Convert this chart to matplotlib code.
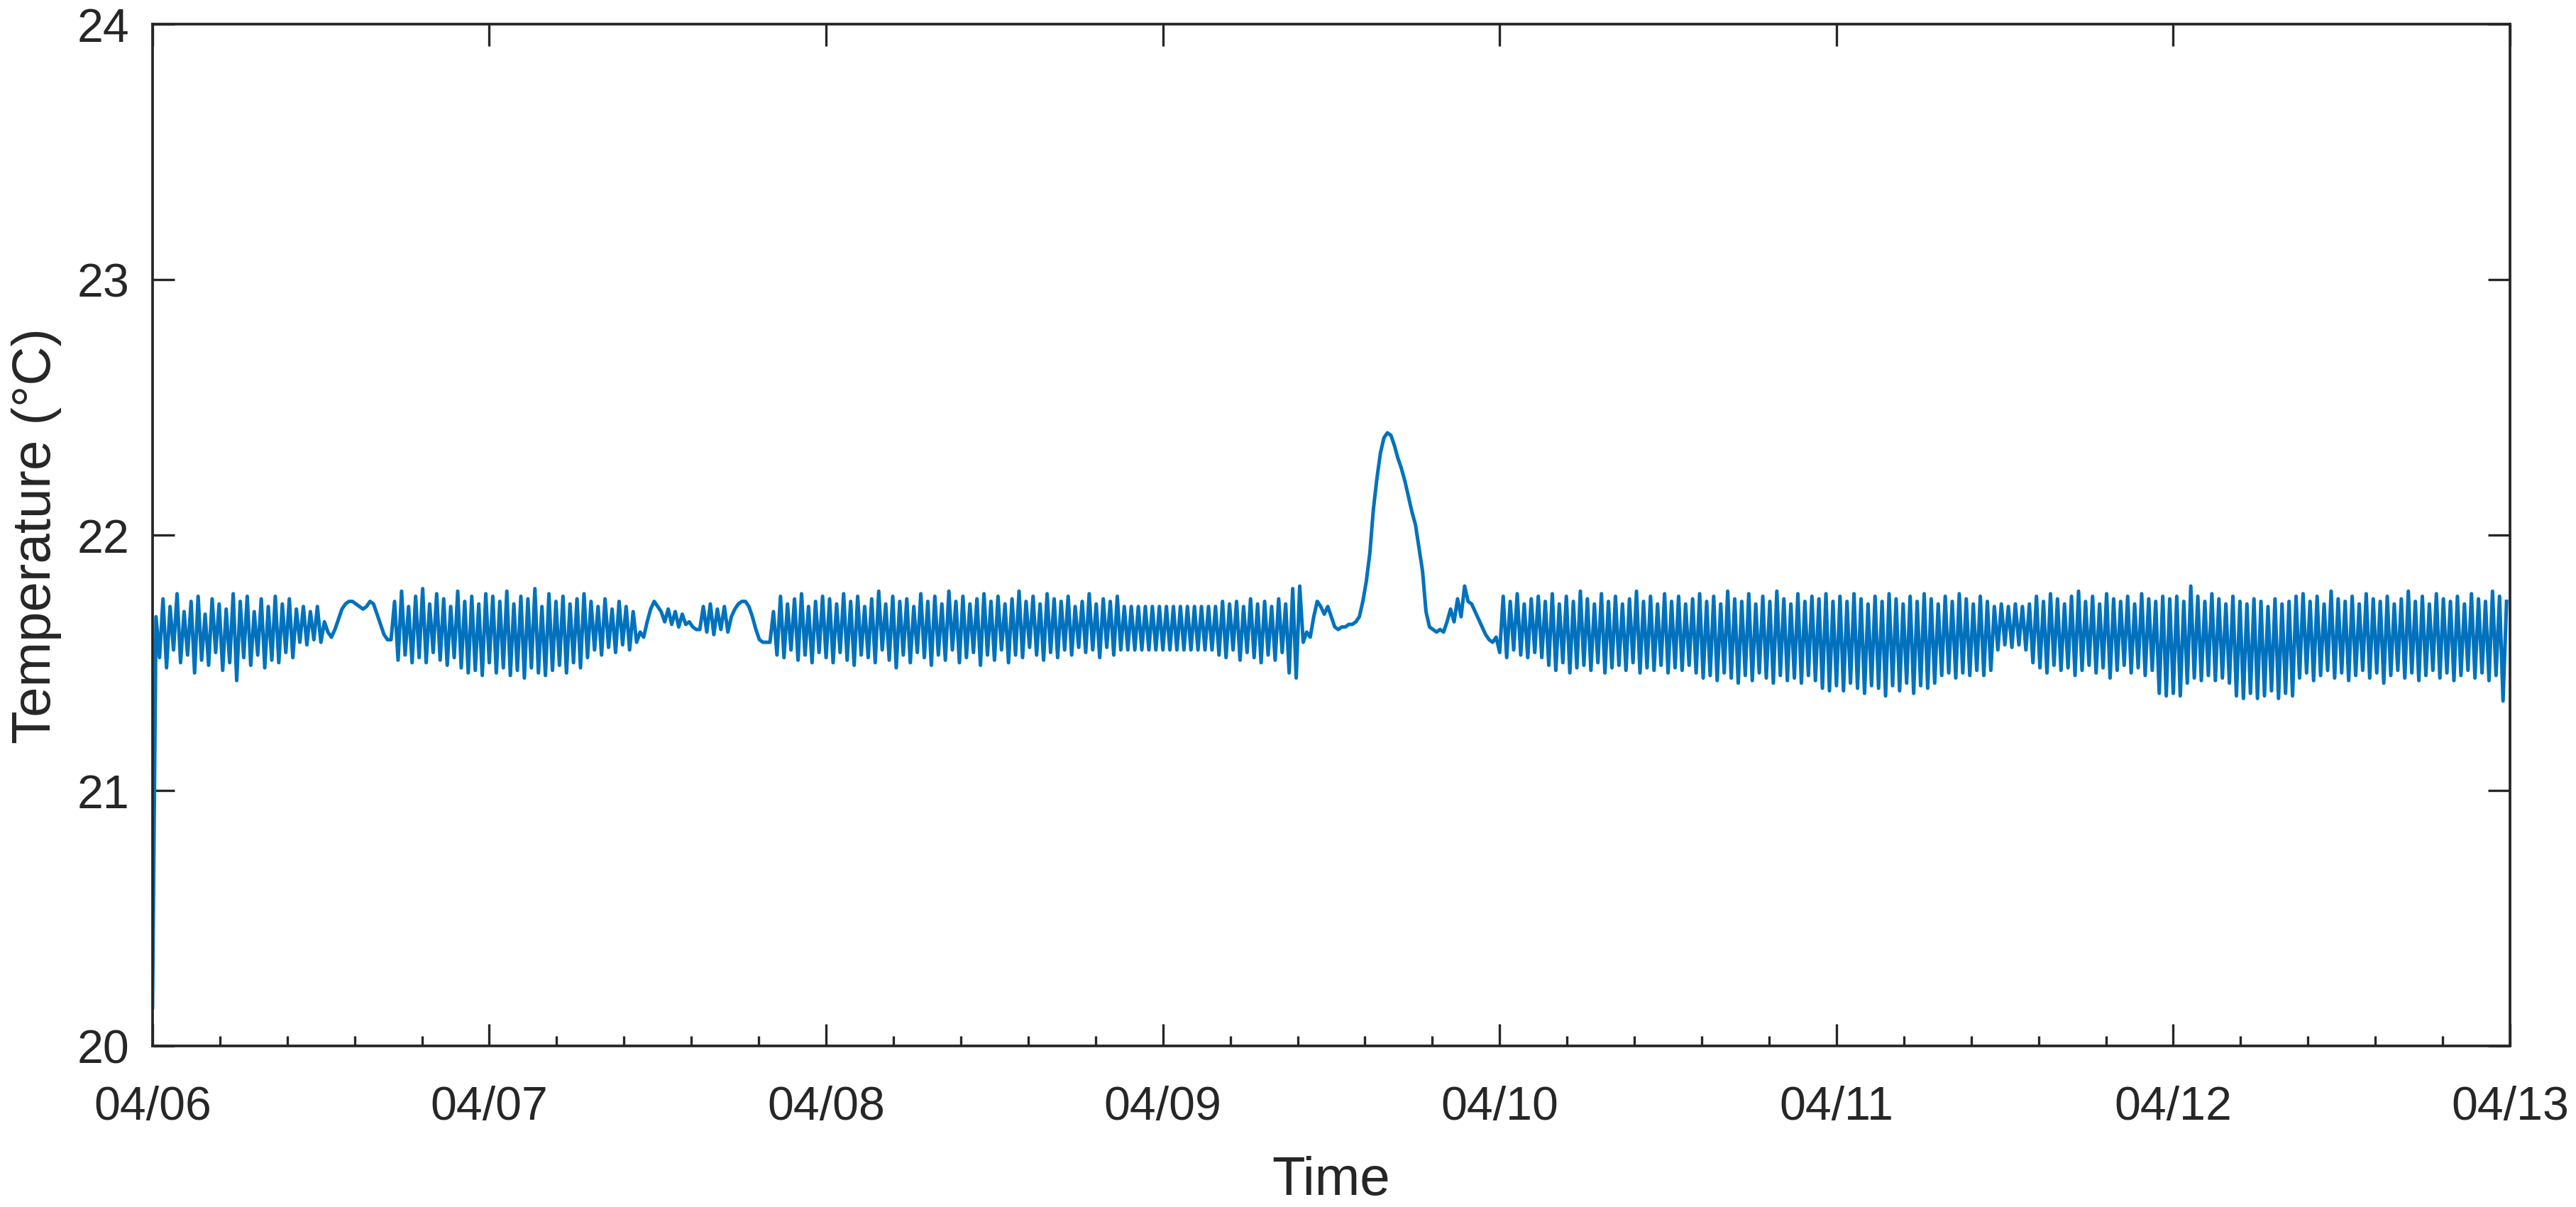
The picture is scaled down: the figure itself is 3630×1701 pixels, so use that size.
import numpy as np
import matplotlib
matplotlib.use('Agg')
import matplotlib.pyplot as plt
import matplotlib.dates as mdates
from matplotlib.ticker import MultipleLocator

plt.rcParams['font.family'] = ['Liberation Sans', 'DejaVu Sans']

# temperature readings, one every 15 minutes, one list per day (°C)
START = np.datetime64('2021-04-06T00:00')
STEP_MIN = 15

apr06 = [20.15,
         21.68, 21.52, 21.75, 21.48, 21.72, 21.55, 21.77, 21.50, 21.70, 21.53, 21.74, 21.46,
         21.76, 21.51, 21.69, 21.49, 21.75, 21.54, 21.73, 21.47, 21.71, 21.50, 21.77, 21.43,
         21.74, 21.52, 21.76, 21.49, 21.70, 21.53, 21.75, 21.48, 21.72, 21.51, 21.76, 21.50,
         21.73, 21.54, 21.75, 21.52, 21.71, 21.58, 21.72, 21.57, 21.70, 21.59, 21.72, 21.58,
         21.66,
         21.62, 21.60, 21.63, 21.67, 21.71, 21.73, 21.74, 21.74, 21.73, 21.72, 21.71, 21.72,
         21.74, 21.73, 21.69, 21.65, 21.61, 21.59, 21.59,
         21.74, 21.51, 21.78, 21.53, 21.72, 21.50, 21.76, 21.52, 21.79, 21.50, 21.73, 21.54,
         21.77, 21.51, 21.75, 21.49, 21.72, 21.52, 21.78, 21.48, 21.74, 21.46, 21.76, 21.47,
         21.73, 21.45, 21.77]

apr07 = [21.50, 21.76, 21.46, 21.74, 21.48, 21.78, 21.45, 21.73, 21.47, 21.76, 21.44, 21.75,
         21.48, 21.79, 21.46, 21.72, 21.45, 21.77, 21.47, 21.74, 21.49, 21.76, 21.46, 21.73,
         21.50, 21.75, 21.48, 21.77, 21.52,
         21.74, 21.55, 21.72, 21.53, 21.75, 21.56, 21.71, 21.54, 21.74, 21.57, 21.72, 21.55,
         21.70, 21.58,
         21.62, 21.60, 21.66, 21.71, 21.74, 21.72, 21.70,
         21.66, 21.71, 21.65, 21.70, 21.64, 21.69, 21.65, 21.66, 21.64,
         21.63, 21.63,
         21.72, 21.62, 21.73, 21.61, 21.71, 21.63, 21.72, 21.62,
         21.68, 21.71, 21.73, 21.74, 21.74, 21.72, 21.68, 21.63, 21.59, 21.58, 21.58, 21.58,
         21.70, 21.53, 21.76, 21.52, 21.73, 21.55, 21.75, 21.51, 21.77, 21.53, 21.72, 21.50,
         21.74, 21.54, 21.76]

apr08 = [21.52, 21.75, 21.50, 21.73, 21.54, 21.77, 21.51, 21.74, 21.49, 21.76, 21.53, 21.72,
         21.52, 21.75, 21.50, 21.78, 21.55, 21.73, 21.51, 21.76, 21.48, 21.74, 21.53, 21.75,
         21.50, 21.72, 21.54, 21.77, 21.52, 21.74, 21.49, 21.76, 21.53, 21.73, 21.51, 21.78,
         21.55, 21.74, 21.50, 21.76, 21.52, 21.73, 21.54, 21.75, 21.49, 21.77, 21.53, 21.74,
         21.51, 21.76, 21.55, 21.73, 21.50, 21.75, 21.53, 21.78, 21.52, 21.74, 21.56, 21.76,
         21.53, 21.73, 21.51, 21.77, 21.54, 21.75, 21.52, 21.74, 21.55, 21.76, 21.53, 21.72,
         21.56, 21.74, 21.54, 21.77, 21.55, 21.73, 21.52, 21.75, 21.56, 21.74, 21.53, 21.76,
         21.55,
         21.72, 21.55, 21.72, 21.55, 21.72, 21.55, 21.72, 21.55, 21.72, 21.55, 21.72]

apr09 = [21.55, 21.72, 21.55, 21.72, 21.55, 21.72, 21.55, 21.72, 21.55, 21.72, 21.55, 21.72,
         21.55, 21.72, 21.55, 21.72,
         21.53, 21.74, 21.52, 21.73, 21.55, 21.74, 21.51, 21.72, 21.54, 21.75, 21.52, 21.73,
         21.50, 21.74, 21.53, 21.72, 21.51, 21.75, 21.54, 21.73,
         21.46, 21.79, 21.44, 21.80, 21.58,
         21.62, 21.60, 21.68, 21.74, 21.72, 21.69, 21.72, 21.68, 21.64, 21.63, 21.64, 21.64,
         21.65, 21.65, 21.66, 21.68,
         21.74, 21.82, 21.93, 22.10, 22.22, 22.32, 22.38, 22.40, 22.39, 22.35, 22.30, 22.26,
         22.21, 22.15, 22.09, 22.04, 21.95, 21.86, 21.70, 21.64, 21.63, 21.62, 21.63, 21.62,
         21.66, 21.71, 21.66, 21.75, 21.68, 21.80, 21.74, 21.73, 21.70, 21.67, 21.64, 21.61,
         21.59, 21.58, 21.60]

apr10 = [21.54, 21.76, 21.52, 21.74, 21.55, 21.77, 21.53, 21.73, 21.52, 21.75, 21.54, 21.76,
         21.52, 21.74, 21.49, 21.77, 21.47, 21.73, 21.50, 21.76, 21.46, 21.74, 21.48, 21.78,
         21.49, 21.75, 21.47, 21.73, 21.50, 21.77, 21.46, 21.74, 21.48, 21.76, 21.49, 21.73,
         21.47, 21.75, 21.50, 21.78, 21.46, 21.74, 21.48, 21.76, 21.47, 21.73, 21.49, 21.77,
         21.46, 21.74, 21.48, 21.76, 21.47, 21.73, 21.49, 21.75, 21.46, 21.77, 21.44, 21.74,
         21.45, 21.76, 21.43, 21.73, 21.46, 21.78, 21.44, 21.75, 21.42, 21.74, 21.45, 21.77,
         21.43, 21.73, 21.46, 21.76, 21.44, 21.74, 21.42, 21.78, 21.45, 21.75, 21.43, 21.73,
         21.44, 21.77, 21.42, 21.74, 21.45, 21.76, 21.43, 21.75, 21.40, 21.77, 21.39, 21.74]

apr11 = [21.41, 21.76, 21.39, 21.74, 21.42, 21.77, 21.40, 21.75, 21.38, 21.73, 21.41, 21.76,
         21.40, 21.74, 21.37, 21.77, 21.41, 21.75, 21.39, 21.73, 21.42, 21.76, 21.38, 21.74,
         21.41, 21.77, 21.40, 21.75, 21.42, 21.73, 21.45, 21.76, 21.46, 21.74, 21.44, 21.77,
         21.46, 21.75, 21.45, 21.73, 21.47, 21.76, 21.45, 21.74, 21.47, 21.72, 21.55, 21.73,
         21.57, 21.72, 21.56, 21.73, 21.57, 21.72, 21.55, 21.73, 21.50, 21.76, 21.48, 21.74,
         21.46, 21.77, 21.49, 21.75, 21.47, 21.73, 21.48, 21.76, 21.45, 21.78, 21.47, 21.74,
         21.49, 21.76, 21.46, 21.73, 21.48, 21.77, 21.44, 21.75, 21.47, 21.74, 21.49, 21.76,
         21.46, 21.73, 21.48, 21.77, 21.45, 21.75, 21.47, 21.74, 21.38, 21.76, 21.37, 21.75]

apr12 = [21.38, 21.76, 21.37, 21.74, 21.42, 21.80, 21.44, 21.76, 21.43, 21.74, 21.45, 21.77,
         21.43, 21.75, 21.44, 21.73, 21.42, 21.76, 21.37, 21.74, 21.36, 21.73, 21.38, 21.75,
         21.36, 21.74, 21.37, 21.72, 21.39, 21.75, 21.36, 21.73, 21.38, 21.74, 21.37, 21.76,
         21.44, 21.77, 21.46, 21.74, 21.43, 21.76, 21.45, 21.73, 21.47, 21.78, 21.44, 21.75,
         21.46, 21.74, 21.43, 21.76, 21.45, 21.73, 21.47, 21.77, 21.44, 21.75, 21.46, 21.74,
         21.42, 21.76, 21.45, 21.73, 21.47, 21.75, 21.44, 21.78, 21.46, 21.74, 21.43, 21.76,
         21.45, 21.73, 21.47, 21.77, 21.44, 21.75, 21.46, 21.74, 21.43, 21.76, 21.45, 21.73,
         21.47, 21.77, 21.44, 21.75, 21.46, 21.74, 21.43, 21.78, 21.45, 21.76, 21.35, 21.74]

days = [apr06, apr07, apr08, apr09, apr10, apr11, apr12]

t_all, v_all = [], []
for k, vals in enumerate(days):
    t0 = START + np.timedelta64(k, 'D')
    t_all.append(t0 + np.arange(len(vals)) * np.timedelta64(STEP_MIN, 'm'))
    v_all.append(np.array(vals))
t_all = np.concatenate(t_all)
v_all = np.concatenate(v_all)

INK = '#262626'
TICK_FS = 15.9
LABEL_FS = 18.3

fig = plt.figure(figsize=(12.1, 5.6733), dpi=300)
ax = fig.add_axes([0.0592, 0.1334, 0.9152, 0.8461])

ax.plot(t_all, v_all, color='#0072BD', linewidth=1.2)

ax.set_xlim(START, START + np.timedelta64(7, 'D'))
ax.set_ylim(20, 24)
ax.set_yticks([20, 21, 22, 23, 24])

ax.xaxis.set_major_locator(mdates.DayLocator())
ax.xaxis.set_major_formatter(mdates.DateFormatter('%m/%d'))
ax.xaxis.set_minor_locator(MultipleLocator(0.2))

ax.tick_params(which='major', direction='in', length=7.5, width=0.8, color=INK,
               labelsize=TICK_FS, labelcolor=INK, top=True, right=True)
ax.tick_params(axis='x', which='major', pad=13.2)
ax.tick_params(axis='y', which='major', pad=7.7)
ax.tick_params(axis='x', which='minor', direction='in', length=3.4, width=0.8,
               color=INK, top=False)

for s in ax.spines.values():
    s.set_linewidth(0.9)
    s.set_color(INK)

ax.set_xlabel('Time', fontsize=LABEL_FS, color=INK, labelpad=9)
ax.set_ylabel('Temperature (°C)', fontsize=LABEL_FS, color=INK, labelpad=5.3)

fig.savefig('out.png', dpi=300, facecolor='white')
